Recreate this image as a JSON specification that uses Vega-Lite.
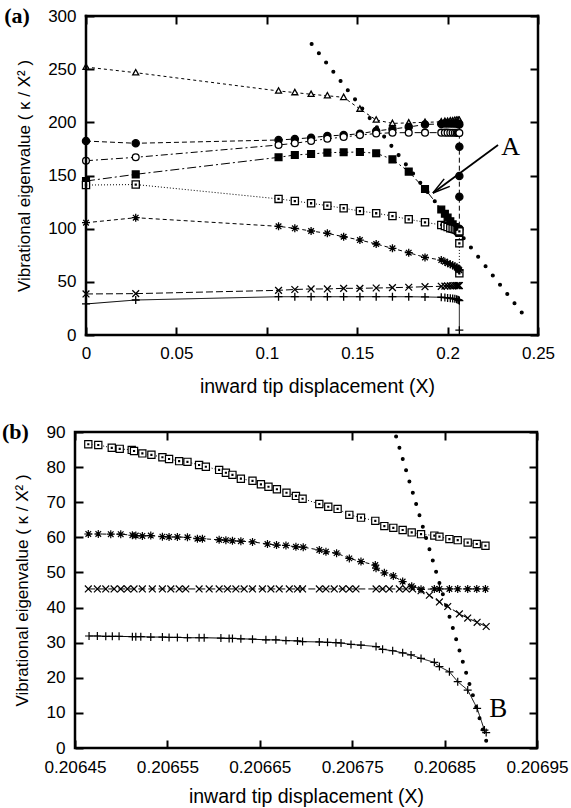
{
"$schema": "https://vega.github.io/schema/vega-lite/v6.json",
"background": "white",
"padding": {"left": 0, "top": 5, "right": 0, "bottom": 1},
"spacing": 23,
"datasets": {
"a": [
{"s":"tri","i":0,"x":0,"y":252},{"s":"tri","i":1,"x":0.0275,"y":246.7},{"s":"tri","i":2,"x":0.1065,"y":229.5},{"s":"tri","i":3,"x":0.1155,"y":228},{"s":"tri","i":4,"x":0.1245,"y":226.4},{"s":"tri","i":5,"x":0.1335,"y":225},{"s":"tri","i":6,"x":0.1425,"y":223.5},{"s":"tri","i":7,"x":0.1515,"y":212.5},{"s":"tri","i":8,"x":0.1605,"y":202.2},{"s":"tri","i":9,"x":0.1695,"y":199},{"s":"tri","i":10,"x":0.1785,"y":199.5},{"s":"tri","i":11,"x":0.1875,"y":200},{"s":"tri","i":12,"x":0.1965,"y":200.5},{"s":"tri","i":13,"x":0.1985,"y":201},{"s":"tri","i":14,"x":0.2,"y":201},{"s":"tri","i":15,"x":0.2015,"y":201.5},{"s":"tri","i":16,"x":0.2028,"y":201.5},{"s":"tri","i":17,"x":0.204,"y":202},{"s":"tri","i":18,"x":0.205,"y":202},{"s":"tri","i":19,"x":0.2057,"y":202},{"s":"tri","i":20,"x":0.2062,"y":202},{"s":"tri","i":21,"x":0.2065,"y":202},
{"s":"fc","i":0,"x":0,"y":182.4},{"s":"fc","i":1,"x":0.0275,"y":180.3},{"s":"fc","i":2,"x":0.1065,"y":183.4},{"s":"fc","i":3,"x":0.1155,"y":184.3},{"s":"fc","i":4,"x":0.1245,"y":185.6},{"s":"fc","i":5,"x":0.1335,"y":187.2},{"s":"fc","i":6,"x":0.1425,"y":188},{"s":"fc","i":7,"x":0.1515,"y":189.3},{"s":"fc","i":8,"x":0.1605,"y":191.9},{"s":"fc","i":9,"x":0.1695,"y":193.7},{"s":"fc","i":10,"x":0.1785,"y":195.6},{"s":"fc","i":11,"x":0.1875,"y":198},{"s":"fc","i":12,"x":0.1965,"y":198.5},{"s":"fc","i":13,"x":0.1985,"y":199},{"s":"fc","i":14,"x":0.2,"y":199},{"s":"fc","i":15,"x":0.2015,"y":199},{"s":"fc","i":16,"x":0.2028,"y":199},{"s":"fc","i":17,"x":0.204,"y":199},{"s":"fc","i":18,"x":0.205,"y":199},{"s":"fc","i":19,"x":0.2057,"y":199},{"s":"fc","i":20,"x":0.2062,"y":198.5},{"s":"fc","i":21,"x":0.2065,"y":198},{"s":"fc","i":22,"x":0.2065,"y":177},{"s":"fc","i":23,"x":0.2065,"y":149.5},{"s":"fc","i":24,"x":0.2065,"y":130},{"s":"fc","i":25,"x":0.2065,"y":100},
{"s":"oc","i":0,"x":0,"y":163.9},{"s":"oc","i":1,"x":0.0275,"y":167.1},{"s":"oc","i":2,"x":0.1065,"y":178.7},{"s":"oc","i":3,"x":0.1155,"y":180.3},{"s":"oc","i":4,"x":0.1245,"y":182.5},{"s":"oc","i":5,"x":0.1335,"y":184.5},{"s":"oc","i":6,"x":0.1425,"y":186.2},{"s":"oc","i":7,"x":0.1515,"y":188},{"s":"oc","i":8,"x":0.1605,"y":189.5},{"s":"oc","i":9,"x":0.1695,"y":190.2},{"s":"oc","i":10,"x":0.1785,"y":190.3},{"s":"oc","i":11,"x":0.1875,"y":190.3},{"s":"oc","i":12,"x":0.1965,"y":190.3},{"s":"oc","i":13,"x":0.1985,"y":190.3},{"s":"oc","i":14,"x":0.2,"y":190.3},{"s":"oc","i":15,"x":0.2015,"y":190.2},{"s":"oc","i":16,"x":0.2028,"y":190.2},{"s":"oc","i":17,"x":0.204,"y":190.2},{"s":"oc","i":18,"x":0.205,"y":190.1},{"s":"oc","i":19,"x":0.2057,"y":190.1},{"s":"oc","i":20,"x":0.2062,"y":190},{"s":"oc","i":21,"x":0.2065,"y":190},
{"s":"fs","i":0,"x":0,"y":144.8},{"s":"fs","i":1,"x":0.0275,"y":151.1},{"s":"fs","i":2,"x":0.1065,"y":167.1},{"s":"fs","i":3,"x":0.1155,"y":169.3},{"s":"fs","i":4,"x":0.1245,"y":170.2},{"s":"fs","i":5,"x":0.1335,"y":171.5},{"s":"fs","i":6,"x":0.1425,"y":171.8},{"s":"fs","i":7,"x":0.1515,"y":172.1},{"s":"fs","i":8,"x":0.1605,"y":170.9},{"s":"fs","i":9,"x":0.1695,"y":165.2},{"s":"fs","i":10,"x":0.1785,"y":153.6},{"s":"fs","i":11,"x":0.1875,"y":137.3},{"s":"fs","i":12,"x":0.1965,"y":118},{"s":"fs","i":13,"x":0.1985,"y":114},{"s":"fs","i":14,"x":0.2,"y":110.5},{"s":"fs","i":15,"x":0.2015,"y":107},{"s":"fs","i":16,"x":0.2028,"y":104},{"s":"fs","i":17,"x":0.204,"y":101.5},{"s":"fs","i":18,"x":0.205,"y":99.5},{"s":"fs","i":19,"x":0.2057,"y":98},{"s":"fs","i":20,"x":0.2062,"y":97},{"s":"fs","i":21,"x":0.2065,"y":96},
{"s":"os","i":0,"x":0,"y":141},{"s":"os","i":1,"x":0.0275,"y":141.5},{"s":"os","i":2,"x":0.1065,"y":128},{"s":"os","i":3,"x":0.1155,"y":126},{"s":"os","i":4,"x":0.1245,"y":123.9},{"s":"os","i":5,"x":0.1335,"y":121.6},{"s":"os","i":6,"x":0.1425,"y":119.2},{"s":"os","i":7,"x":0.1515,"y":116.6},{"s":"os","i":8,"x":0.1605,"y":114.5},{"s":"os","i":9,"x":0.1695,"y":111.9},{"s":"os","i":10,"x":0.1785,"y":108.8},{"s":"os","i":11,"x":0.1875,"y":106},{"s":"os","i":12,"x":0.1965,"y":103.5},{"s":"os","i":13,"x":0.1985,"y":102.5},{"s":"os","i":14,"x":0.2,"y":101.5},{"s":"os","i":15,"x":0.2015,"y":100.5},{"s":"os","i":16,"x":0.2028,"y":100},{"s":"os","i":17,"x":0.204,"y":99.5},{"s":"os","i":18,"x":0.205,"y":99},{"s":"os","i":19,"x":0.2057,"y":98.5},{"s":"os","i":20,"x":0.2062,"y":98},{"s":"os","i":21,"x":0.2065,"y":97.5},{"s":"os","i":22,"x":0.2065,"y":86.2},{"s":"os","i":23,"x":0.2065,"y":58},
{"s":"ast","i":0,"x":0,"y":105.6},{"s":"ast","i":1,"x":0.0275,"y":110.3},{"s":"ast","i":2,"x":0.1065,"y":102.2},{"s":"ast","i":3,"x":0.1155,"y":100.3},{"s":"ast","i":4,"x":0.1245,"y":97.8},{"s":"ast","i":5,"x":0.1335,"y":95.6},{"s":"ast","i":6,"x":0.1425,"y":92.4},{"s":"ast","i":7,"x":0.1515,"y":89.3},{"s":"ast","i":8,"x":0.1605,"y":85.6},{"s":"ast","i":9,"x":0.1695,"y":81.5},{"s":"ast","i":10,"x":0.1785,"y":77.4},{"s":"ast","i":11,"x":0.1875,"y":73},{"s":"ast","i":12,"x":0.1965,"y":70.5},{"s":"ast","i":13,"x":0.1985,"y":69},{"s":"ast","i":14,"x":0.2,"y":67.5},{"s":"ast","i":15,"x":0.2015,"y":66.5},{"s":"ast","i":16,"x":0.2028,"y":65.5},{"s":"ast","i":17,"x":0.204,"y":64.5},{"s":"ast","i":18,"x":0.205,"y":63.5},{"s":"ast","i":19,"x":0.2057,"y":62.5},{"s":"ast","i":20,"x":0.2062,"y":61.5},{"s":"ast","i":21,"x":0.2065,"y":61},
{"s":"cr","i":0,"x":0,"y":38.6},{"s":"cr","i":1,"x":0.0275,"y":38.9},{"s":"cr","i":2,"x":0.1065,"y":42},{"s":"cr","i":3,"x":0.1155,"y":42.8},{"s":"cr","i":4,"x":0.1245,"y":43.3},{"s":"cr","i":5,"x":0.1335,"y":43.3},{"s":"cr","i":6,"x":0.1425,"y":43.9},{"s":"cr","i":7,"x":0.1515,"y":43.9},{"s":"cr","i":8,"x":0.1605,"y":44.2},{"s":"cr","i":9,"x":0.1695,"y":44.5},{"s":"cr","i":10,"x":0.1785,"y":44.9},{"s":"cr","i":11,"x":0.1875,"y":45.4},{"s":"cr","i":12,"x":0.1965,"y":45.8},{"s":"cr","i":13,"x":0.1985,"y":46},{"s":"cr","i":14,"x":0.2,"y":46.1},{"s":"cr","i":15,"x":0.2015,"y":46.2},{"s":"cr","i":16,"x":0.2028,"y":46.3},{"s":"cr","i":17,"x":0.204,"y":46.4},{"s":"cr","i":18,"x":0.205,"y":46.5},{"s":"cr","i":19,"x":0.2057,"y":46.5},{"s":"cr","i":20,"x":0.2062,"y":46.5},{"s":"cr","i":21,"x":0.2065,"y":46.5},
{"s":"pl","i":0,"x":0,"y":29.2},{"s":"pl","i":1,"x":0.0275,"y":32.9},{"s":"pl","i":2,"x":0.1065,"y":36},{"s":"pl","i":3,"x":0.1155,"y":36},{"s":"pl","i":4,"x":0.1245,"y":36},{"s":"pl","i":5,"x":0.1335,"y":36},{"s":"pl","i":6,"x":0.1425,"y":36},{"s":"pl","i":7,"x":0.1515,"y":36},{"s":"pl","i":8,"x":0.1605,"y":36},{"s":"pl","i":9,"x":0.1695,"y":36},{"s":"pl","i":10,"x":0.1785,"y":36},{"s":"pl","i":11,"x":0.1875,"y":35.8},{"s":"pl","i":12,"x":0.1965,"y":35.5},{"s":"pl","i":13,"x":0.1985,"y":35.2},{"s":"pl","i":14,"x":0.2,"y":34.9},{"s":"pl","i":15,"x":0.2015,"y":34.6},{"s":"pl","i":16,"x":0.2028,"y":34.3},{"s":"pl","i":17,"x":0.204,"y":34},{"s":"pl","i":18,"x":0.205,"y":33.6},{"s":"pl","i":19,"x":0.2057,"y":33.2},{"s":"pl","i":20,"x":0.2062,"y":32.8},{"s":"pl","i":21,"x":0.2065,"y":32.3},{"s":"pl","i":22,"x":0.2065,"y":4.5},
{"s":"dots","i":0,"x":0.1248,"y":273.7},{"s":"dots","i":1,"x":0.1288,"y":265},{"s":"dots","i":2,"x":0.1328,"y":256.3},{"s":"dots","i":3,"x":0.1368,"y":247.6},{"s":"dots","i":4,"x":0.1408,"y":238.9},{"s":"dots","i":5,"x":0.1448,"y":230.2},{"s":"dots","i":6,"x":0.1488,"y":221.6},{"s":"dots","i":7,"x":0.1528,"y":212.9},{"s":"dots","i":8,"x":0.1569,"y":204},{"s":"dots","i":9,"x":0.1609,"y":195.3},{"s":"dots","i":10,"x":0.1649,"y":186.6},{"s":"dots","i":11,"x":0.1689,"y":177.9},{"s":"dots","i":12,"x":0.1729,"y":169.2},{"s":"dots","i":13,"x":0.1769,"y":160.5},{"s":"dots","i":14,"x":0.1809,"y":151.8},{"s":"dots","i":15,"x":0.1849,"y":143.1},{"s":"dots","i":16,"x":0.1889,"y":134.5},{"s":"dots","i":17,"x":0.1929,"y":125.8},{"s":"dots","i":18,"x":0.1969,"y":117.1},{"s":"dots","i":19,"x":0.2009,"y":108.4},{"s":"dots","i":20,"x":0.2049,"y":99.7},{"s":"dots","i":21,"x":0.2089,"y":91},{"s":"dots","i":22,"x":0.2129,"y":82.3},{"s":"dots","i":23,"x":0.2169,"y":73.6},{"s":"dots","i":24,"x":0.221,"y":64.7},{"s":"dots","i":25,"x":0.225,"y":56},{"s":"dots","i":26,"x":0.229,"y":47.3},{"s":"dots","i":27,"x":0.233,"y":38.6},{"s":"dots","i":28,"x":0.237,"y":29.9},{"s":"dots","i":29,"x":0.241,"y":21.2}
],
"b": [
{"s":"os","i":0,"x":0.2064644,"y":86.5},{"s":"os","i":1,"x":0.2064752,"y":86.3},{"s":"os","i":2,"x":0.2064898,"y":85.5},{"s":"os","i":3,"x":0.2064984,"y":85.2},{"s":"os","i":4,"x":0.2065114,"y":84.9},{"s":"os","i":5,"x":0.2065139,"y":84.6},{"s":"os","i":6,"x":0.2065229,"y":83.9},{"s":"os","i":7,"x":0.2065327,"y":83.5},{"s":"os","i":8,"x":0.2065446,"y":82.8},{"s":"os","i":9,"x":0.2065518,"y":82.3},{"s":"os","i":10,"x":0.2065627,"y":81.7},{"s":"os","i":11,"x":0.2065717,"y":81.5},{"s":"os","i":12,"x":0.2065843,"y":80.6},{"s":"os","i":13,"x":0.2065916,"y":80.1},{"s":"os","i":14,"x":0.206606,"y":79.2},{"s":"os","i":15,"x":0.2066133,"y":78.4},{"s":"os","i":16,"x":0.2066204,"y":77.8},{"s":"os","i":17,"x":0.2066295,"y":76.7},{"s":"os","i":18,"x":0.2066421,"y":76.1},{"s":"os","i":19,"x":0.2066512,"y":75.1},{"s":"os","i":20,"x":0.2066594,"y":74.4},{"s":"os","i":21,"x":0.2066685,"y":73.7},{"s":"os","i":22,"x":0.2066789,"y":72.7},{"s":"os","i":23,"x":0.2066891,"y":71.8},{"s":"os","i":24,"x":0.2066963,"y":71},{"s":"os","i":25,"x":0.2067144,"y":69.5},{"s":"os","i":26,"x":0.2067241,"y":68.7},{"s":"os","i":27,"x":0.2067342,"y":68.1},{"s":"os","i":28,"x":0.2067469,"y":66.4},{"s":"os","i":29,"x":0.2067595,"y":65.6},{"s":"os","i":30,"x":0.206775,"y":64.7},{"s":"os","i":31,"x":0.2067848,"y":63.2},{"s":"os","i":32,"x":0.2067945,"y":62.7},{"s":"os","i":33,"x":0.2068046,"y":62.1},{"s":"os","i":34,"x":0.2068144,"y":61.4},{"s":"os","i":35,"x":0.2068245,"y":60.9},{"s":"os","i":36,"x":0.2068389,"y":60.5},{"s":"os","i":37,"x":0.2068444,"y":60.2},{"s":"os","i":38,"x":0.2068552,"y":59.5},{"s":"os","i":39,"x":0.2068642,"y":59.2},{"s":"os","i":40,"x":0.206875,"y":58.5},{"s":"os","i":41,"x":0.2068848,"y":58.1},{"s":"os","i":42,"x":0.2068942,"y":57.6},
{"s":"ast","i":0,"x":0.2064644,"y":60.95},{"s":"ast","i":1,"x":0.2064752,"y":60.95},{"s":"ast","i":2,"x":0.2064887,"y":60.9},{"s":"ast","i":3,"x":0.2064995,"y":60.9},{"s":"ast","i":4,"x":0.2065121,"y":60.6},{"s":"ast","i":5,"x":0.2065158,"y":60.5},{"s":"ast","i":6,"x":0.2065229,"y":60.4},{"s":"ast","i":7,"x":0.206532,"y":60.5},{"s":"ast","i":8,"x":0.2065446,"y":60.2},{"s":"ast","i":9,"x":0.2065518,"y":60.1},{"s":"ast","i":10,"x":0.2065608,"y":60.1},{"s":"ast","i":11,"x":0.2065717,"y":60},{"s":"ast","i":12,"x":0.2065825,"y":59.6},{"s":"ast","i":13,"x":0.2065879,"y":59.6},{"s":"ast","i":14,"x":0.206606,"y":59.3},{"s":"ast","i":15,"x":0.2066133,"y":59.2},{"s":"ast","i":16,"x":0.2066204,"y":59},{"s":"ast","i":17,"x":0.2066295,"y":58.9},{"s":"ast","i":18,"x":0.2066421,"y":58.7},{"s":"ast","i":19,"x":0.2066583,"y":58.1},{"s":"ast","i":20,"x":0.2066681,"y":57.8},{"s":"ast","i":21,"x":0.2066783,"y":57.7},{"s":"ast","i":22,"x":0.2066891,"y":57.3},{"s":"ast","i":23,"x":0.206697,"y":57.2},{"s":"ast","i":24,"x":0.2067144,"y":56.4},{"s":"ast","i":25,"x":0.2067216,"y":55.9},{"s":"ast","i":26,"x":0.2067331,"y":55.5},{"s":"ast","i":27,"x":0.2067469,"y":54},{"s":"ast","i":28,"x":0.2067595,"y":53.1},{"s":"ast","i":29,"x":0.206775,"y":52.1},{"s":"ast","i":30,"x":0.2067758,"y":51.2},{"s":"ast","i":31,"x":0.2067848,"y":49.9},{"s":"ast","i":32,"x":0.2067945,"y":49},{"s":"ast","i":33,"x":0.2068046,"y":47.4},{"s":"ast","i":34,"x":0.2068144,"y":46.1},{"s":"ast","i":35,"x":0.2068245,"y":45.2},{"s":"ast","i":36,"x":0.2068389,"y":45.3},{"s":"ast","i":37,"x":0.2068444,"y":45.3},{"s":"ast","i":38,"x":0.2068552,"y":45.3},{"s":"ast","i":39,"x":0.2068642,"y":45.3},{"s":"ast","i":40,"x":0.206875,"y":45.3},{"s":"ast","i":41,"x":0.2068848,"y":45.3},{"s":"ast","i":42,"x":0.2068942,"y":45.3},
{"s":"cr","i":0,"x":0.2064644,"y":45.3},{"s":"cr","i":1,"x":0.2064742,"y":45.3},{"s":"cr","i":2,"x":0.2064833,"y":45.3},{"s":"cr","i":3,"x":0.2064923,"y":45.3},{"s":"cr","i":4,"x":0.2064995,"y":45.3},{"s":"cr","i":5,"x":0.2065067,"y":45.3},{"s":"cr","i":6,"x":0.2065139,"y":45.3},{"s":"cr","i":7,"x":0.2065229,"y":45.3},{"s":"cr","i":8,"x":0.2065337,"y":45.3},{"s":"cr","i":9,"x":0.2065446,"y":45.3},{"s":"cr","i":10,"x":0.2065537,"y":45.3},{"s":"cr","i":11,"x":0.2065627,"y":45.3},{"s":"cr","i":12,"x":0.2065699,"y":45.3},{"s":"cr","i":13,"x":0.2065843,"y":45.3},{"s":"cr","i":14,"x":0.2065952,"y":45.3},{"s":"cr","i":15,"x":0.206606,"y":45.3},{"s":"cr","i":16,"x":0.206615,"y":45.3},{"s":"cr","i":17,"x":0.2066241,"y":45.3},{"s":"cr","i":18,"x":0.2066331,"y":45.3},{"s":"cr","i":19,"x":0.2066421,"y":45.3},{"s":"cr","i":20,"x":0.2066529,"y":45.3},{"s":"cr","i":21,"x":0.206662,"y":45.3},{"s":"cr","i":22,"x":0.206671,"y":45.3},{"s":"cr","i":23,"x":0.2066819,"y":45.3},{"s":"cr","i":24,"x":0.2066908,"y":45.3},{"s":"cr","i":25,"x":0.2066963,"y":45.3},{"s":"cr","i":26,"x":0.2067144,"y":45.3},{"s":"cr","i":27,"x":0.2067216,"y":45.3},{"s":"cr","i":28,"x":0.2067306,"y":45.3},{"s":"cr","i":29,"x":0.2067396,"y":45.3},{"s":"cr","i":30,"x":0.2067469,"y":45.3},{"s":"cr","i":31,"x":0.2067541,"y":45.3},{"s":"cr","i":32,"x":0.2067758,"y":45.3},{"s":"cr","i":33,"x":0.2067829,"y":45.3},{"s":"cr","i":34,"x":0.2067902,"y":45.3},{"s":"cr","i":35,"x":0.206801,"y":45.3},{"s":"cr","i":36,"x":0.2068083,"y":45.3},{"s":"cr","i":37,"x":0.2068154,"y":45.3},{"s":"cr","i":38,"x":0.2068245,"y":44.8},{"s":"cr","i":39,"x":0.2068335,"y":43.5},{"s":"cr","i":40,"x":0.2068444,"y":41.6},{"s":"cr","i":41,"x":0.2068534,"y":40.3},{"s":"cr","i":42,"x":0.206866,"y":38.2},{"s":"cr","i":43,"x":0.206875,"y":37},{"s":"cr","i":44,"x":0.2068852,"y":35.8},{"s":"cr","i":45,"x":0.206895,"y":34.6},
{"s":"pl","i":0,"x":0.2064652,"y":31.9},{"s":"pl","i":1,"x":0.2064742,"y":31.9},{"s":"pl","i":2,"x":0.2064833,"y":31.8},{"s":"pl","i":3,"x":0.2064904,"y":31.8},{"s":"pl","i":4,"x":0.2064977,"y":31.8},{"s":"pl","i":5,"x":0.2065121,"y":31.7},{"s":"pl","i":6,"x":0.2065158,"y":31.7},{"s":"pl","i":7,"x":0.2065212,"y":31.7},{"s":"pl","i":8,"x":0.206532,"y":31.6},{"s":"pl","i":9,"x":0.2065446,"y":31.6},{"s":"pl","i":10,"x":0.2065518,"y":31.5},{"s":"pl","i":11,"x":0.2065608,"y":31.5},{"s":"pl","i":12,"x":0.2065717,"y":31.4},{"s":"pl","i":13,"x":0.2065843,"y":31.4},{"s":"pl","i":14,"x":0.2065898,"y":31.4},{"s":"pl","i":15,"x":0.2066079,"y":31.3},{"s":"pl","i":16,"x":0.2066168,"y":31.2},{"s":"pl","i":17,"x":0.2066204,"y":31.2},{"s":"pl","i":18,"x":0.2066295,"y":31.1},{"s":"pl","i":19,"x":0.2066421,"y":31},{"s":"pl","i":20,"x":0.2066566,"y":30.8},{"s":"pl","i":21,"x":0.2066674,"y":30.8},{"s":"pl","i":22,"x":0.2066783,"y":30.6},{"s":"pl","i":23,"x":0.2066908,"y":30.5},{"s":"pl","i":24,"x":0.2066963,"y":30.3},{"s":"pl","i":25,"x":0.2067144,"y":30.2},{"s":"pl","i":26,"x":0.2067233,"y":30.1},{"s":"pl","i":27,"x":0.2067324,"y":30},{"s":"pl","i":28,"x":0.2067379,"y":29.9},{"s":"pl","i":29,"x":0.2067487,"y":29.5},{"s":"pl","i":30,"x":0.2067595,"y":29.3},{"s":"pl","i":31,"x":0.2067758,"y":28.9},{"s":"pl","i":32,"x":0.2067829,"y":28.1},{"s":"pl","i":33,"x":0.2067938,"y":27.7},{"s":"pl","i":34,"x":0.2068046,"y":27.1},{"s":"pl","i":35,"x":0.2068137,"y":26.5},{"s":"pl","i":36,"x":0.2068245,"y":25.5},{"s":"pl","i":37,"x":0.2068389,"y":24.4},{"s":"pl","i":38,"x":0.2068444,"y":23.2},{"s":"pl","i":39,"x":0.2068552,"y":21.7},{"s":"pl","i":40,"x":0.2068642,"y":18.9},{"s":"pl","i":41,"x":0.206875,"y":16.5},{"s":"pl","i":42,"x":0.2068852,"y":11.3},{"s":"pl","i":43,"x":0.2068931,"y":5.1},{"s":"pl","i":44,"x":0.206895,"y":4.4},
{"s":"dots","i":0,"x":0.2067975,"y":88.7},{"s":"dots","i":1,"x":0.2068011,"y":85.5},{"s":"dots","i":2,"x":0.2068047,"y":82.3},{"s":"dots","i":3,"x":0.2068083,"y":79.1},{"s":"dots","i":4,"x":0.2068119,"y":75.9},{"s":"dots","i":5,"x":0.2068156,"y":72.7},{"s":"dots","i":6,"x":0.2068192,"y":69.5},{"s":"dots","i":7,"x":0.2068228,"y":66.3},{"s":"dots","i":8,"x":0.2068264,"y":63},{"s":"dots","i":9,"x":0.20683,"y":59.8},{"s":"dots","i":10,"x":0.2068336,"y":56.6},{"s":"dots","i":11,"x":0.2068372,"y":53.4},{"s":"dots","i":12,"x":0.2068408,"y":50.2},{"s":"dots","i":13,"x":0.2068444,"y":47},{"s":"dots","i":14,"x":0.2068481,"y":43.8},{"s":"dots","i":15,"x":0.2068517,"y":40.6},{"s":"dots","i":16,"x":0.2068553,"y":37.4},{"s":"dots","i":17,"x":0.2068589,"y":34.2},{"s":"dots","i":18,"x":0.2068625,"y":31},{"s":"dots","i":19,"x":0.2068661,"y":27.8},{"s":"dots","i":20,"x":0.2068697,"y":24.6},{"s":"dots","i":21,"x":0.2068733,"y":21.4},{"s":"dots","i":22,"x":0.2068769,"y":18.2},{"s":"dots","i":23,"x":0.2068806,"y":15},{"s":"dots","i":24,"x":0.2068842,"y":11.7},{"s":"dots","i":25,"x":0.2068878,"y":8.5},{"s":"dots","i":26,"x":0.2068914,"y":5.3},{"s":"dots","i":27,"x":0.206895,"y":2.1}
]
},
"vconcat": [
{
"width": 463, "height": 319,
"view": {"stroke": null},
"data": {"name": "a"},
"layer": [
{"mark": {"type": "line", "color": "black", "strokeWidth": 1},
 "transform": [{"filter": "datum.s != 'dots'"}],
 "encoding": {
  "x": {"field": "x", "type": "quantitative", "scale": {"domain": [-0.0060841, 0.25], "nice": false, "zero": false}, "axis": {"orient": "bottom", "values": [0, 0.05, 0.1, 0.15, 0.2, 0.25], "format": "~g", "title": "inward tip displacement (X)", "titleX": 242, "titlePadding": 16}},
  "y": {"field": "y", "type": "quantitative", "scale": {"domain": [0, 300], "nice": false}, "axis": {"orient": "left", "offset": -11, "values": [0, 50, 100, 150, 200, 250, 300], "title": "Vibrational eigenvalue ( κ / X² )"}},
  "order": {"field": "i", "type": "quantitative"},
  "strokeDash": {"field": "s", "type": "nominal", "scale": {"domain": ["tri", "fc", "oc", "fs", "os", "ast", "cr", "pl"], "range": [[3, 3], [5, 3], [7, 3, 2, 3], [9, 3, 2, 3], [1, 2], [4, 3], [7, 3], [1, 0]]}, "legend": null}
 }},
{"mark": {"type": "point", "filled": true, "opacity": 1, "stroke": "black", "strokeWidth": 1.3, "size": 64},
 "encoding": {
  "x": {"field": "x", "type": "quantitative", "axis": {"orient": "top", "labels": false, "title": null, "values": [0, 0.05, 0.1, 0.15, 0.2, 0.25]}},
  "y": {"field": "y", "type": "quantitative", "axis": {"orient": "right", "labels": false, "title": null, "values": [0, 50, 100, 150, 200, 250, 300]}},
  "shape": {"field": "s", "type": "nominal", "scale": {"domain": ["tri", "fc", "oc", "fs", "os", "ast", "cr", "pl", "dots"], "range": ["M0,-0.8L0.75,0.55L-0.75,0.55Z", "M-0.9,0A0.9,0.9,0,1,1,0.9,0A0.9,0.9,0,1,1,-0.9,0Z", "M-0.85,0A0.85,0.85,0,1,1,0.85,0A0.85,0.85,0,1,1,-0.85,0Z", "M-0.85,-0.85H0.85V0.85H-0.85Z", "M-0.9,-0.9H0.9V0.9H-0.9ZM-0.12,-0.12H0.12V0.12H-0.12Z", "M-1,0H1M0,-1V1M-0.7,-0.7L0.7,0.7M-0.7,0.7L0.7,-0.7", "M-0.85,-0.85L0.85,0.85M-0.85,0.85L0.85,-0.85", "M-1,0H1M0,-1V1", "M-0.35,0A0.35,0.35,0,1,1,0.35,0A0.35,0.35,0,1,1,-0.35,0Z"]}, "legend": null},
  "fill": {"field": "s", "type": "nominal", "scale": {"domain": ["tri", "fc", "oc", "fs", "os", "ast", "cr", "pl", "dots"], "range": ["white", "black", "white", "black", "white", "black", "black", "black", "black"]}, "legend": null}
 }},
{"data": {"values": [{}]},
 "mark": {"type": "rule", "color": "black", "strokeWidth": 2.5, "strokeCap": "square"},
 "encoding": {"x": {"datum": 0, "type": "quantitative", "axis": null}, "x2": {"datum": 0.25}, "y": {"datum": 0, "type": "quantitative", "axis": null}}},
{"data": {"values": [{}]},
 "mark": {"type": "rule", "color": "black", "strokeWidth": 2.5, "strokeCap": "square"},
 "encoding": {"x": {"datum": 0, "type": "quantitative", "axis": null}, "x2": {"datum": 0.25}, "y": {"datum": 300, "type": "quantitative", "axis": null}}},
{"data": {"values": [{}]},
 "mark": {"type": "rule", "color": "black", "strokeWidth": 2.5, "strokeCap": "square"},
 "encoding": {"x": {"datum": 0, "type": "quantitative", "axis": null}, "y": {"datum": 0, "type": "quantitative", "axis": null}, "y2": {"datum": 300}}},
{"data": {"values": [{}]},
 "mark": {"type": "rule", "color": "black", "strokeWidth": 2.5, "strokeCap": "square"},
 "encoding": {"x": {"datum": 0.25, "type": "quantitative", "axis": null}, "y": {"datum": 0, "type": "quantitative", "axis": null}, "y2": {"datum": 300}}},
{"data": {"values": [{}]},
 "mark": {"type": "text", "text": "(a)", "font": "Liberation Serif", "fontSize": 22, "fontWeight": "bold", "align": "right", "baseline": "middle", "color": "black"},
 "encoding": {"x": {"datum": -0.031, "type": "quantitative", "axis": null}, "y": {"datum": 300, "type": "quantitative", "axis": null}}},
{"data": {"values": [{}]},
 "mark": {"type": "text", "text": "A", "font": "Liberation Serif", "fontSize": 26, "align": "center", "baseline": "middle", "color": "black"},
 "encoding": {"x": {"datum": 0.2349, "type": "quantitative", "axis": null}, "y": {"datum": 177, "type": "quantitative", "axis": null}}},
{"data": {"values": [{}]},
 "mark": {"type": "rule", "color": "black", "strokeWidth": 1.8},
 "encoding": {"x": {"datum": 0.2279, "type": "quantitative", "axis": null}, "y": {"datum": 178.7, "type": "quantitative", "axis": null}, "x2": {"datum": 0.1919}, "y2": {"datum": 133.6}}},
{"data": {"values": [{}]},
 "mark": {"type": "rule", "color": "black", "strokeWidth": 1.5},
 "encoding": {"x": {"datum": 0.1919, "type": "quantitative", "axis": null}, "y": {"datum": 133.6, "type": "quantitative", "axis": null}, "x2": {"datum": 0.2012}, "y2": {"datum": 139.8}}},
{"data": {"values": [{}]},
 "mark": {"type": "rule", "color": "black", "strokeWidth": 1.5},
 "encoding": {"x": {"datum": 0.1919, "type": "quantitative", "axis": null}, "y": {"datum": 133.6, "type": "quantitative", "axis": null}, "x2": {"datum": 0.1981}, "y2": {"datum": 146.8}}}
]
},
{
"width": 462, "height": 316,
"data": {"name": "b"},
"layer": [
{"mark": {"type": "line", "color": "black", "strokeWidth": 1},
 "transform": [{"filter": "datum.s != 'dots'"}],
 "encoding": {
  "x": {"field": "x", "type": "quantitative", "scale": {"domain": [0.20645, 0.20695], "nice": false, "zero": false}, "axis": {"orient": "bottom", "values": [0.20645, 0.20655, 0.20665, 0.20675, 0.20685, 0.20695], "format": ".5f", "labelFontSize": 17.2, "title": "inward tip displacement (X)", "titlePadding": 12}},
  "y": {"field": "y", "type": "quantitative", "scale": {"domain": [0, 90], "nice": false}, "axis": {"orient": "left", "values": [0, 10, 20, 30, 40, 50, 60, 70, 80, 90], "labelFontSize": 17.2, "title": "Vibrational eigenvalue ( κ / X² )"}},
  "order": {"field": "i", "type": "quantitative"},
  "strokeDash": {"field": "s", "type": "nominal", "scale": {"domain": ["os", "ast", "cr", "pl"], "range": [[1, 2], [3, 3], [6, 3], [1, 0]]}, "legend": null}
 }},
{"mark": {"type": "point", "filled": true, "opacity": 1, "stroke": "black", "strokeWidth": 1.2, "size": 64},
 "encoding": {
  "x": {"field": "x", "type": "quantitative", "axis": {"orient": "top", "labels": false, "title": null, "values": [0.20645, 0.20655, 0.20665, 0.20675, 0.20685, 0.20695]}},
  "y": {"field": "y", "type": "quantitative", "axis": {"orient": "right", "labels": false, "title": null, "values": [0, 10, 20, 30, 40, 50, 60, 70, 80, 90]}},
  "shape": {"field": "s", "type": "nominal", "scale": {"domain": ["os", "ast", "cr", "pl", "dots"], "range": ["M-0.95,-0.95H0.95V0.95H-0.95ZM-0.12,-0.12H0.12V0.12H-0.12Z", "M-1,0H1M0,-1V1M-0.7,-0.7L0.7,0.7M-0.7,0.7L0.7,-0.7", "M-0.85,-0.85L0.85,0.85M-0.85,0.85L0.85,-0.85", "M-1,0H1M0,-1V1", "M-0.35,0A0.35,0.35,0,1,1,0.35,0A0.35,0.35,0,1,1,-0.35,0Z"]}, "legend": null},
  "fill": {"field": "s", "type": "nominal", "scale": {"domain": ["os", "ast", "cr", "pl", "dots"], "range": ["white", "black", "black", "black", "black"]}, "legend": null}
 }},
{"data": {"values": [{}]},
 "mark": {"type": "text", "text": "(b)", "font": "Liberation Serif", "fontSize": 22, "fontWeight": "bold", "align": "right", "baseline": "middle", "color": "black"},
 "encoding": {"x": {"datum": 0.2064001, "type": "quantitative", "axis": null}, "y": {"datum": 90, "type": "quantitative", "axis": null}}},
{"data": {"values": [{}]},
 "mark": {"type": "text", "text": "B", "font": "Liberation Serif", "fontSize": 27, "align": "center", "baseline": "middle", "color": "black"},
 "encoding": {"x": {"datum": 0.206908, "type": "quantitative", "axis": null}, "y": {"datum": 11, "type": "quantitative", "axis": null}}}
]
}
],
"config": {
 "view": {"stroke": "black", "strokeWidth": 2.5},
 "axis": {"grid": false, "domain": false, "ticks": true, "tickColor": "black", "tickWidth": 2, "tickSize": -8, "labelPadding": 18, "labelColor": "black", "labelFont": "Liberation Sans", "labelFontSize": 17, "labelFlush": false, "labelOverlap": false, "titleFont": "Liberation Sans", "titleFontWeight": "normal", "titleColor": "black"},
 "axisX": {"titleFontSize": 19.5},
 "axisY": {"titleFontSize": 17, "titlePadding": 14}
}
}
